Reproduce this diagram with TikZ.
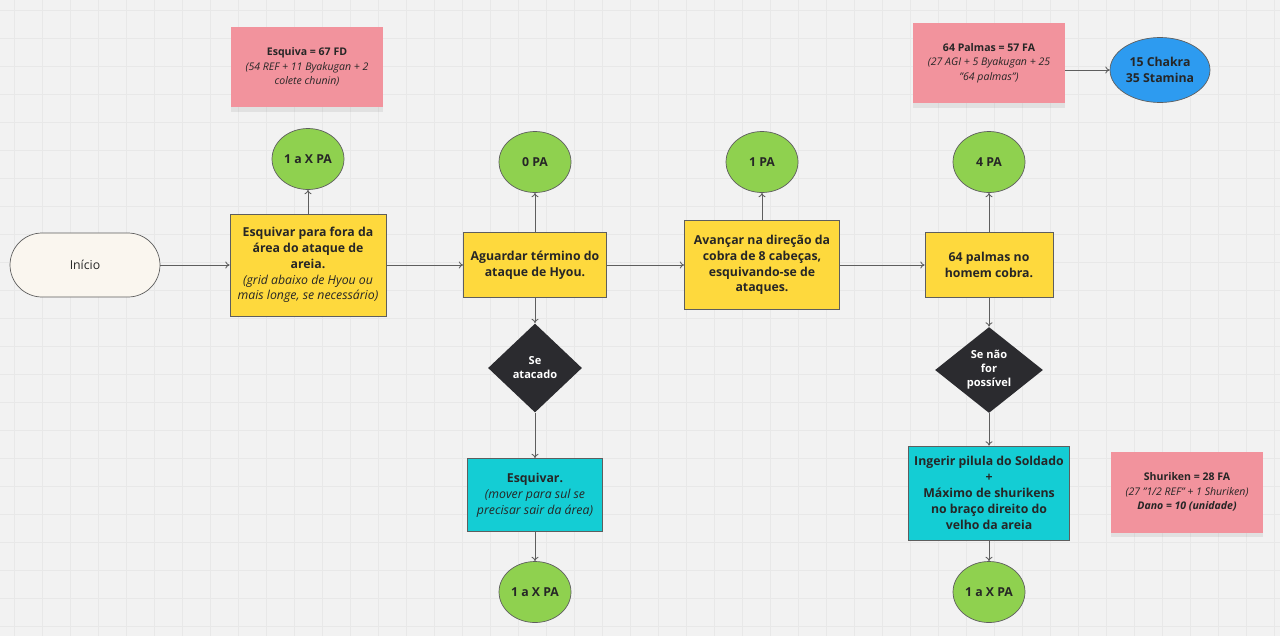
\documentclass[tikz,border=0pt]{standalone}
\usepackage{fontspec}
\setmainfont{Open Sans}
\usetikzlibrary{shapes.geometric,arrows.meta,shadows}

\definecolor{bgcol}{HTML}{F2F2F2}
\definecolor{gridcol}{HTML}{E8E8E8}
\definecolor{txtcol}{HTML}{262626}
\definecolor{linecol}{HTML}{5E5E5E}
\definecolor{stepyellow}{HTML}{FED93D}
\definecolor{dodgecyan}{HTML}{14CDD4}
\definecolor{pagreen}{HTML}{8FD14F}
\definecolor{decdark}{HTML}{2B2B2F}
\definecolor{notepink}{HTML}{F2939D}
\definecolor{chakrablue}{HTML}{2D9BF0}
\definecolor{startcream}{HTML}{FAF6EF}

\newcommand{\stepfont}{\fontsize{7}{9}\selectfont}
\newcommand{\notesfont}{\fontsize{6}{8.2}\selectfont}
\newcommand{\decisionfont}{\fontsize{6.3}{8}\selectfont}

\tikzset{
  gridline/.style={gridcol, line width=0.4pt},
  startnode/.style={draw=linecol, fill=startcream, rounded corners=0.64cm,
    minimum width=3cm, minimum height=1.28cm, font=\stepfont, text=txtcol},
  stepbox/.style={draw=linecol, fill=stepyellow, align=center, inner sep=2pt,
    font=\stepfont, text=txtcol},
  dodgebox/.style={stepbox, fill=dodgecyan},
  pacircle/.style={ellipse, draw=linecol, fill=pagreen, minimum width=1.44cm,
    minimum height=1.22cm, inner sep=0pt, font=\bfseries\stepfont, text=txtcol},
  decision/.style={diamond, fill=decdark, text=white, align=center, aspect=1,
    inner sep=0pt, font=\bfseries\decisionfont},
  note/.style={fill=notepink, align=center, minimum width=3.04cm,
    minimum height=1.62cm, font=\notesfont, text=txtcol,
    drop shadow={shadow xshift=0pt, shadow yshift=-2.5pt, opacity=0.15}},
  flow/.style={draw=linecol, line width=0.5pt, -{To[length=2.5pt,width=4pt]}}
}

\begin{document}
\begin{tikzpicture}[x=0.02cm, y=-0.02cm]
    \useasboundingbox (0,0) rectangle (1280,636);
    % Background
    \fill[bgcol] (0,0) rectangle (1280,636);
    \foreach \gx in {14,42,...,1280} \draw[gridline] (\gx,0) -- (\gx,636);
    \foreach \gy in {10,38,...,636} \draw[gridline] (0,\gy) -- (1280,\gy);

    % Nodes
    \node[startnode] (inicio) at (85,265) {Início};
    \node[stepbox, minimum width=3.12cm, minimum height=2.04cm] (esquivar) at (308,265)
      {\textbf{Esquivar para fora da}\\\textbf{área do ataque de}\\\textbf{areia.}\\
       \textit{(grid abaixo de Hyou ou}\\\textit{mais longe, se necessário)}};
    \node[stepbox, minimum width=2.86cm, minimum height=1.3cm] (aguardar) at (535,265)
      {\textbf{Aguardar término do}\\\textbf{ataque de Hyou.}};
    \node[stepbox, minimum width=3.1cm, minimum height=1.78cm] (avancar) at (762,265)
      {\textbf{Avançar na direção da}\\\textbf{cobra de 8 cabeças,}\\\textbf{esquivando-se de}\\\textbf{ataques.}};
    \node[stepbox, minimum width=2.56cm, minimum height=1.3cm] (palmas) at (989,265)
      {\textbf{64 palmas no}\\\textbf{homem cobra.}};

    \node[pacircle] (paesquivar) at (308,159) {1 a X PA};
    \node[pacircle] (paaguardar) at (535,162) {0 PA};
    \node[pacircle] (paavancar) at (762,162) {1 PA};
    \node[pacircle] (papalmas) at (989,162) {4 PA};

    \node[decision, minimum width=1.88cm, minimum height=1.78cm] (atacado) at (535,368)
      {Se\\atacado};
    \node[decision, minimum width=2.16cm, minimum height=1.72cm] (possivel) at (989,370)
      {Se não\\for\\possível};

    \node[dodgebox, minimum width=2.7cm, minimum height=1.46cm] (esquivar2) at (535,495)
      {\textbf{Esquivar.}\\\textit{(mover para sul se}\\\textit{precisar sair da área)}};
    \node[dodgebox, minimum width=3.22cm, minimum height=1.88cm] (ingerir) at (989,493)
      {\textbf{Ingerir pilula do Soldado}\\\textbf{+}\\\textbf{Máximo de shurikens}\\\textbf{no braço direito do}\\\textbf{velho da areia}};

    \node[pacircle] (paesquivar2) at (535,592) {1 a X PA};
    \node[pacircle] (paingerir) at (989,592) {1 a X PA};

    \node[note] (esquivanote) at (307,67)
      {\textbf{Esquiva = 67 FD}\\\textit{(54 REF + 11 Byakugan + 2}\\\textit{colete chunin)}};
    \node[note] (palmasnote) at (989,63)
      {\textbf{64 Palmas = 57 FA}\\\textit{(27 AGI + 5 Byakugan + 25}\\\textit{"64 palmas")}};
    \node[note] (shurikennote) at (1187,492)
      {\textbf{Shuriken = 28 FA}\\\textit{(27 "1/2 REF" + 1 Shuriken)}\\\textbf{\textit{Dano = 10 (unidade)}}};
    \node[ellipse, draw=linecol, fill=chakrablue, minimum width=2cm, minimum height=1.3cm,
      inner sep=0pt, align=center, font=\bfseries\stepfont, text=txtcol] (chakra) at (1160,70)
      {15 Chakra\\35 Stamina};

    % Edges
    \draw[flow] (inicio) -- (esquivar);
    \draw[flow] (esquivar) -- (aguardar);
    \draw[flow] (aguardar) -- (avancar);
    \draw[flow] (avancar) -- (palmas);
    \draw[flow] (esquivar) -- (paesquivar);
    \draw[flow] (aguardar) -- (paaguardar);
    \draw[flow] (avancar) -- (paavancar);
    \draw[flow] (palmas) -- (papalmas);
    \draw[flow] (aguardar) -- (atacado);
    \draw[flow] (atacado) -- (esquivar2);
    \draw[flow] (esquivar2) -- (paesquivar2);
    \draw[flow] (palmas) -- (possivel);
    \draw[flow] (possivel) -- (ingerir);
    \draw[flow] (ingerir) -- (paingerir);
    \draw[flow] (palmasnote.east |- chakra) -- (chakra);
\end{tikzpicture}
\end{document}
